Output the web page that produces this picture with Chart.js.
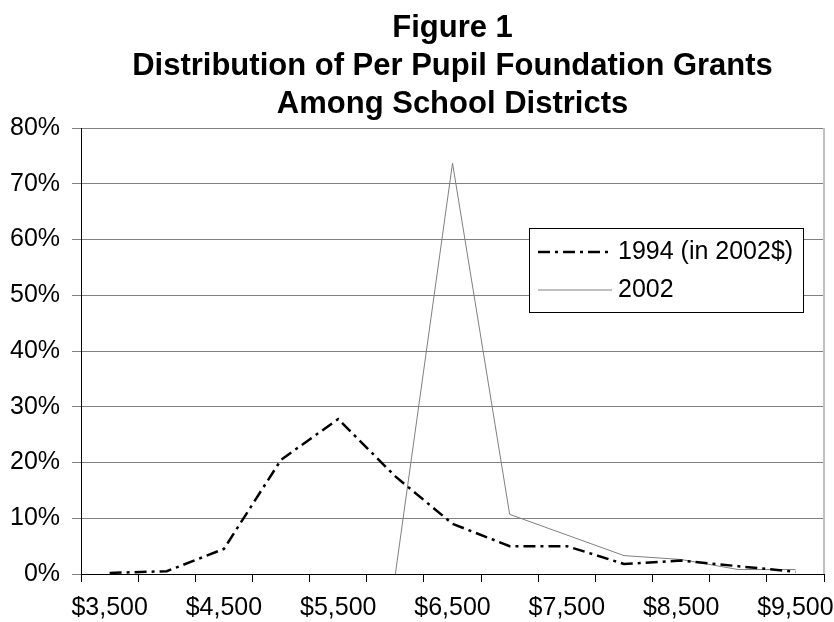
<!DOCTYPE html>
<html>
<head>
<meta charset="utf-8">
<script src="https://cdn.jsdelivr.net/npm/chart.js@4/dist/chart.umd.min.js"></script>
<style>
  html, body { margin: 0; padding: 0; background: #fff; }
  #wrap { width: 834px; height: 622px; }
</style>
</head>
<body>
<div id="wrap"><canvas id="grantChart" width="834" height="622"></canvas></div>
<script>
// per pupil grant buckets
const categories = ['$3,500', '$4,000', '$4,500', '$5,000', '$5,500', '$6,000', '$6,500',
  '$7,000', '$7,500', '$8,000', '$8,500', '$9,000', '$9,500'];

// share of districts, percent
const share1994 = [0.2, 0.5, 4.5, 20.5, 27.8, 17.5, 9.0, 5.0, 5.0, 1.8, 2.4, 1.4, 0.4];
const share2002 = [null, null, null, null, null, 0, 73.7, 10.7, 7.0, 3.3, 2.6, 0.8, 0.8];

const seriesNames = ['1994 (in 2002$)', '2002'];
const yTicks = [0, 10, 20, 30, 40, 50, 60, 70, 80];

const titleLines = ['Figure 1', 'Distribution of Per Pupil Foundation Grants', 'Among School Districts'];

const FONT = '"Liberation Sans", Arial, sans-serif';

// light grey right edge of the plot area
const plotEdge = {
  id: 'plotEdge',
  beforeDatasetsDraw(chart) {
    const { ctx, chartArea: a } = chart;
    ctx.save();
    ctx.strokeStyle = '#c0c0c0';
    ctx.lineWidth = 2;
    ctx.beginPath();
    ctx.moveTo(a.right, a.top);
    ctx.lineTo(a.right, a.bottom);
    ctx.stroke();
    ctx.restore();
  }
};

// legend sits inside the plot, Excel style
const boxLegend = {
  id: 'boxLegend',
  afterDatasetsDraw(chart) {
    const { ctx, chartArea: a } = chart;
    const w = a.right - a.left, h = a.bottom - a.top;
    const x0 = Math.round(a.left + w * 0.603), y0 = Math.round(a.top + h * 0.225);
    const bw = 274, bh = 84;
    ctx.save();
    ctx.fillStyle = '#fff';
    ctx.fillRect(x0, y0, bw, bh);
    ctx.strokeStyle = '#000';
    ctx.lineWidth = 1;
    ctx.strokeRect(x0 + 0.5, y0 + 0.5, bw, bh);
    ctx.font = '25px ' + FONT;
    ctx.textBaseline = 'middle';
    chart.data.datasets.forEach((ds, i) => {
      const cy = y0 + 24 + i * 38;
      ctx.beginPath();
      ctx.setLineDash(ds.borderDash || []);
      ctx.strokeStyle = ds.borderColor;
      ctx.lineWidth = ds.borderWidth;
      ctx.moveTo(x0 + 9, cy);
      ctx.lineTo(x0 + 83, cy);
      ctx.stroke();
      ctx.setLineDash([]);
      ctx.fillStyle = '#000';
      ctx.fillText(ds.label, x0 + 89, cy);
    });
    ctx.restore();
  }
};

const ctx = document.getElementById('grantChart').getContext('2d');
const grantChart = new Chart(ctx, {
  type: 'line',
  data: {
    labels: categories,
    datasets: [
      {
        label: seriesNames[0],
        data: share1994,
        borderColor: '#000',
        borderWidth: 2.5,
        borderDash: [12, 5, 3, 5],
        pointRadius: 0,
        tension: 0,
        fill: false,
      },
      {
        label: seriesNames[1],
        data: share2002,
        borderColor: '#808080',
        borderWidth: 1,
        pointRadius: 0,
        tension: 0,
        fill: false,
      },
    ],
  },
  plugins: [plotEdge, boxLegend],
  options: {
    responsive: false,
    animation: false,
    layout: { padding: { left: -2, right: 10, top: 4, bottom: -12 } },
    plugins: {
      legend: { display: false },
      tooltip: { enabled: false },
      title: {
        display: true,
        fullSize: false,
        text: titleLines,
        color: '#000',
        font: { family: '"Liberation Sans Narrow", "Liberation Sans", Arial, sans-serif', size: 31, weight: 'bold', lineHeight: 1.226 },
        padding: { top: 5, bottom: 5 },
      },
    },
    scales: {
      x: {
        type: 'category',
        offset: true,
        border: { color: '#000', width: 1 },
        grid: { offset: true, drawOnChartArea: false, drawTicks: true, tickLength: 8, color: '#000' },
        afterFit: (scale) => { scale.paddingLeft = 0; scale.paddingRight = 0; },
        ticks: {
          autoSkip: false,
          maxRotation: 0,
          color: '#000',
          padding: 11,
          font: { family: FONT, size: 25 },
          callback: (v, i) => (i % 2 === 0 ? categories[i] : ''),
        },
      },
      y: {
        min: yTicks[0],
        max: yTicks[yTicks.length - 1],
        border: { color: '#000', width: 1 },
        grid: { color: '#808080', tickLength: 9, drawTicks: true },
        afterBuildTicks: (axis) => { axis.ticks = yTicks.map(v => ({ value: v })); },
        ticks: {
          color: '#000',
          padding: 12,
          font: { family: FONT, size: 25 },
          callback: (v) => v + '%',
        },
      },
    },
  },
});
</script>
</body>
</html>
